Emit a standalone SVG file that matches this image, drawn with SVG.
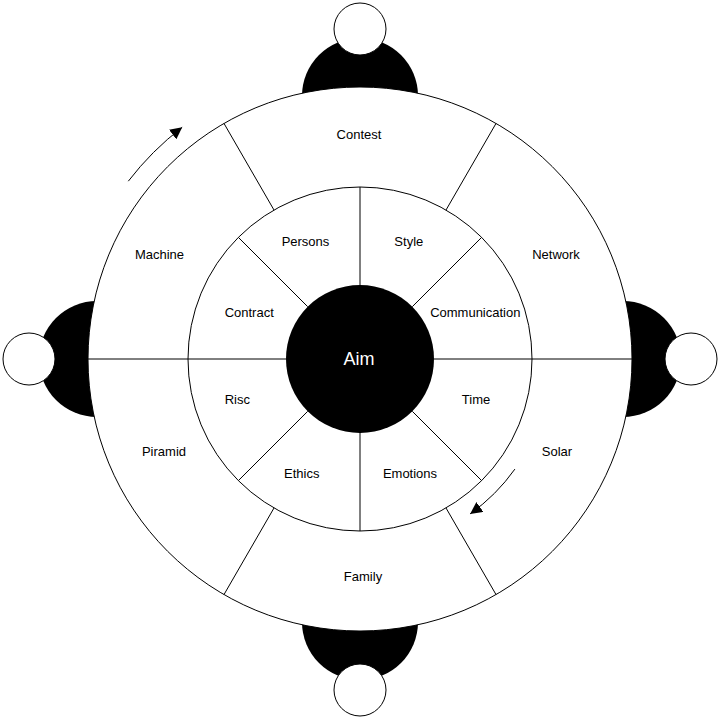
<svg xmlns="http://www.w3.org/2000/svg" width="720" height="720" viewBox="0 0 720 720">
<style>
.bg{fill:#ffffff}
.knob{fill:#000000;stroke:none}
.cap{fill:#ffffff;stroke:#000000;stroke-width:1}
.ring{fill:#ffffff;stroke:#000000;stroke-width:1}
.div{stroke:#000000;stroke-width:1;fill:none}
.lbl{font-family:"Liberation Sans",Arial,sans-serif;font-size:13px;fill:#000000;text-anchor:middle}
.aim{font-family:"Liberation Sans",Arial,sans-serif;font-size:18px;fill:#ffffff;text-anchor:middle}
.arc{stroke:#000000;stroke-width:1;fill:none;marker-end:url(#ah)}
</style>
<defs>
<marker id="ah" markerUnits="userSpaceOnUse" markerWidth="12" markerHeight="12" refX="12" refY="6" orient="auto">
<path d="M0,0 L12,6 L0,12 z" fill="#000000"/>
</marker>
</defs>
<rect class="bg" x="0" y="0" width="720" height="720"/>
<g id="handles">
<circle class="knob" cx="360" cy="96" r="58"/>
<circle class="knob" cx="360" cy="622" r="58"/>
<circle class="knob" cx="97" cy="359" r="58"/>
<circle class="knob" cx="623" cy="359" r="58"/>
<circle class="cap" cx="360" cy="29" r="26"/>
<circle class="cap" cx="360" cy="690" r="26"/>
<circle class="cap" cx="29" cy="359" r="26"/>
<circle class="cap" cx="691" cy="359" r="26"/>
</g>
<g id="wheel">
<circle class="ring" cx="360" cy="359" r="272"/>
<circle class="ring" cx="360" cy="359" r="172"/>
<line class="div" x1="286" y1="359" x2="88" y2="359"/>
<line class="div" x1="434" y1="359" x2="632" y2="359"/>
<line class="div" x1="360" y1="285" x2="360" y2="187"/>
<line class="div" x1="360" y1="433" x2="360" y2="531"/>
<line class="div" x1="412.33" y1="411.33" x2="481.62" y2="480.62"/>
<line class="div" x1="307.67" y1="411.33" x2="238.38" y2="480.62"/>
<line class="div" x1="307.67" y1="306.67" x2="238.38" y2="237.38"/>
<line class="div" x1="412.33" y1="306.67" x2="481.62" y2="237.38"/>
<line class="div" x1="446" y1="507.96" x2="496" y2="594.56"/>
<line class="div" x1="274" y1="507.96" x2="224" y2="594.56"/>
<line class="div" x1="274" y1="210.04" x2="224" y2="123.44"/>
<line class="div" x1="446" y1="210.04" x2="496" y2="123.44"/>
</g>
<g id="aim">
<circle cx="360" cy="359" r="74" fill="#000000"/>
<text class="aim" x="359" y="365">Aim</text>
</g>
<g id="contest"><text class="lbl" x="359" y="138.5">Contest</text></g>
<g id="machine"><text class="lbl" x="159.5" y="259">Machine</text></g>
<g id="network"><text class="lbl" x="556" y="259">Network</text></g>
<g id="piramid"><text class="lbl" x="164" y="456">Piramid</text></g>
<g id="solar"><text class="lbl" x="557" y="456">Solar</text></g>
<g id="family"><text class="lbl" x="363" y="580.5">Family</text></g>
<g id="persons"><text class="lbl" x="305.5" y="245.7">Persons</text></g>
<g id="style"><text class="lbl" x="408.8" y="245.7">Style</text></g>
<g id="contract"><text class="lbl" x="249.2" y="316.7">Contract</text></g>
<g id="communication"><text class="lbl" x="475.3" y="316.7">Communication</text></g>
<g id="risc"><text class="lbl" x="237.3" y="404">Risc</text></g>
<g id="time"><text class="lbl" x="476" y="404">Time</text></g>
<g id="ethics"><text class="lbl" x="301.7" y="477.5">Ethics</text></g>
<g id="emotions"><text class="lbl" x="410" y="477.5">Emotions</text></g>
<g id="connectors">
<path class="arc" d="M128.3,181.2 A292,292 0 0 1 182.2,127.3"/>
<path class="arc" d="M514.9,469.1 A190,190 0 0 1 470.1,513.9"/>
</g>
</svg>
